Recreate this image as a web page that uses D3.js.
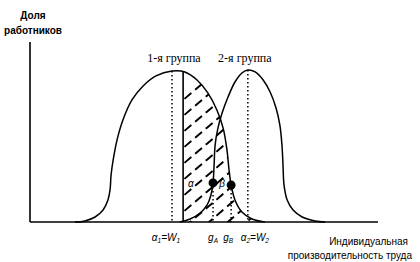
<!DOCTYPE html>
<html>
<head>
<meta charset="utf-8">
<script src="https://cdn.jsdelivr.net/npm/d3@7"></script>
<style>
  body { margin: 0; background: #fff; }
  svg { display: block; }
  .axis { stroke: #000; stroke-width: 1.6; fill: none; }
  .curve { stroke: #000; stroke-width: 1.5; fill: none; }
  .dotted { stroke: #000; stroke-width: 1.5; stroke-dasharray: 1.5,2.5; }
  .hatch { stroke: #000; stroke-width: 1.9; stroke-dasharray: 9,5; }
  .lbl { font-family: "Liberation Sans", Arial, sans-serif; font-size: 10px; fill: #000; }
</style>
</head>
<body>
<div id="chart"></div>
<script>
// distribution of group 1 (productivity, share of workers, % of peak)
const group1 = [
  [12.9, 0], [15.8, 0.7], [18.7, 3.3], [21.0, 7.9], [22.4, 14.5], [23.0, 21.1],
  [23.3, 30.9], [23.9, 40.8], [25.0, 53.9], [26.7, 67.1], [29.3, 80.3], [32.5, 89.5],
  [36.2, 96.1], [40.8, 99.3], [44.5, 98.7], [48.0, 93.4], [51.1, 84.9], [53.7, 73.7],
  [55.5, 61.8], [56.6, 47.4], [57.2, 34.2], [57.8, 24.3], [58.9, 14.5], [60.9, 6.6],
  [63.8, 2.0], [67.5, 0]
];
// distribution of group 2
const group2 = [
  [43.1, 0], [46.0, 2.0], [48.9, 5.9], [50.9, 11.2], [52.0, 17.8], [52.6, 25.7],
  [52.9, 37.5], [53.2, 50.7], [54.0, 61.8], [55.2, 71.7], [56.9, 82.2], [58.9, 92.1],
  [60.9, 98.0], [62.6, 100], [64.7, 98.7], [67.0, 93.4], [69.0, 85.5], [70.7, 75.0],
  [71.8, 63.8], [72.4, 50.7], [72.7, 37.5], [73.0, 24.3], [73.9, 14.5], [75.6, 7.9],
  [78.2, 3.3], [81.9, 0.7], [84.8, 0]
];

const alpha1 = 40.8, cutoff = 44.0, gA = 52.6, gB = 57.8, alpha2 = 62.6;

const tickLabels = [
  {v: alpha1, parts: [["α", ""], ["1", "sub"], ["=W", ""], ["1", "sub"]], dx: -6},
  {v: gA, parts: [["g", ""], ["A", "sub"]], dx: 0},
  {v: gB, parts: [["g", ""], ["B", "sub"]], dx: -3},
  {v: alpha2, parts: [["α", ""], ["2", "sub"], ["=W", ""], ["2", "sub"]], dx: 7}
];

const width = 420, height = 262;
const margin = {top: 42, right: 42, bottom: 40, left: 30};

const svg = d3.select("#chart")
  .append("svg")
  .attr("width", width)
  .attr("height", height);

const x = d3.scaleLinear().domain([0, 100]).range([margin.left, width - margin.right]);
const y = d3.scaleLinear().domain([0, 100]).range([height - margin.bottom, 70]);

const line = d3.line()
  .x(d => x(d[0]))
  .y(d => y(d[1]))
  .curve(d3.curveCatmullRom.alpha(0.5));

function yAt(data, v) {
  const i = d3.bisector(d => d[0]).left(data, v);
  const a = data[Math.max(0, i - 1)], b = data[Math.min(data.length - 1, i)];
  if (a[0] === b[0]) return a[1];
  return a[1] + (b[1] - a[1]) * (v - a[0]) / (b[0] - a[0]);
}

// hatched area: under group 1 curve, to the right of the cutoff
const area = d3.area()
  .x(d => x(d[0]))
  .y0(y(0))
  .y1(d => y(d[1]))
  .curve(d3.curveCatmullRom.alpha(0.5));
const clipData = [[cutoff, yAt(group1, cutoff)]].concat(group1.filter(d => d[0] > cutoff));

svg.append("clipPath").attr("id", "hclip")
  .append("path")
  .attr("d", area(clipData));

const hatchG = svg.append("g").attr("clip-path", "url(#hclip)");
hatchG.selectAll("line")
  .data(d3.range(0, 14))
  .join("line")
  .attr("class", "hatch")
  .attr("x1", x(cutoff) - 20)
  .attr("y1", i => 100 + i * 16 + 17)
  .attr("x2", x(cutoff) + 120)
  .attr("y2", i => 100 + i * 16 - 102);

// axes
svg.append("line").attr("class", "axis")
  .attr("x1", x(0)).attr("x2", x(100))
  .attr("y1", y(0)).attr("y2", y(0));
svg.append("line").attr("class", "axis")
  .attr("x1", x(0)).attr("x2", x(0))
  .attr("y1", y(0)).attr("y2", margin.top);

// curves
svg.append("path").attr("class", "curve").attr("d", line(group1));
svg.append("path").attr("class", "curve").attr("d", line(group2));

// vertical lines
svg.append("line").attr("class", "dotted")
  .attr("x1", x(alpha1)).attr("x2", x(alpha1))
  .attr("y1", y(yAt(group1, alpha1))).attr("y2", y(0));
svg.append("line").attr("class", "dotted")
  .attr("x1", x(alpha2)).attr("x2", x(alpha2))
  .attr("y1", y(100)).attr("y2", y(0));
svg.append("line")
  .attr("stroke", "#000").attr("stroke-width", 1.6)
  .attr("x1", x(cutoff)).attr("x2", x(cutoff))
  .attr("y1", y(yAt(group1, cutoff))).attr("y2", y(0));

const dots = [[gA, yAt(group2, gA)], [gB, yAt(group1, gB)]];
svg.selectAll(".gline").data(dots).join("line")
  .attr("class", "dotted gline")
  .attr("x1", d => x(d[0])).attr("x2", d => x(d[0]))
  .attr("y1", d => y(d[1])).attr("y2", y(0));
svg.selectAll(".dot").data(dots).join("circle")
  .attr("class", "dot")
  .attr("cx", d => x(d[0])).attr("cy", d => y(d[1]))
  .attr("r", 4.5).attr("fill", "#000");

// greek labels in the picture
svg.append("text").attr("class", "lbl")
  .attr("x", x(cutoff) + 5).attr("y", y(dots[0][1]) + 4)
  .attr("font-style", "italic").attr("font-size", 10)
  .text("α");
svg.append("text").attr("class", "lbl")
  .attr("x", (x(gA) + x(gB)) / 2).attr("y", y(dots[0][1]) + 4)
  .attr("text-anchor", "middle").attr("font-style", "italic")
  .text("β");

// group labels
svg.append("text")
  .attr("x", x(alpha1) + 2).attr("y", 62)
  .attr("text-anchor", "middle")
  .attr("font-family", "Liberation Serif, serif").attr("font-size", 12)
  .text("1-я группа");
svg.append("text")
  .attr("x", x(alpha2) - 3).attr("y", 62)
  .attr("text-anchor", "middle")
  .attr("font-family", "Liberation Serif, serif").attr("font-size", 12)
  .text("2-я группа");

// tick labels
tickLabels.forEach(t => {
  const txt = svg.append("text").attr("class", "lbl")
    .attr("x", x(t.v) + t.dx).attr("y", 241)
    .attr("text-anchor", "middle")
    .attr("font-style", "italic").attr("font-size", 9.5);
  t.parts.forEach(p => {
    txt.append("tspan")
      .attr("baseline-shift", p[1] === "sub" ? "-25%" : null)
      .attr("font-size", p[1] === "sub" ? 6.5 : null)
      .text(p[0]);
  });
});

// axis titles
const yt = svg.append("text").attr("class", "lbl")
  .attr("font-weight", "bold").attr("text-anchor", "middle").attr("font-size", 10.5);
yt.append("tspan").attr("x", 33).attr("y", 19).text("Доля");
yt.append("tspan").attr("x", 33).attr("y", 34).text("работников");

const xt = svg.append("text").attr("class", "lbl")
  .attr("text-anchor", "end").attr("font-size", 10.8);
xt.append("tspan").attr("x", 408).attr("y", 245).text("Индивидуальная");
xt.append("tspan").attr("x", 412).attr("y", 259).text("производительность труда");
</script>
</body>
</html>
